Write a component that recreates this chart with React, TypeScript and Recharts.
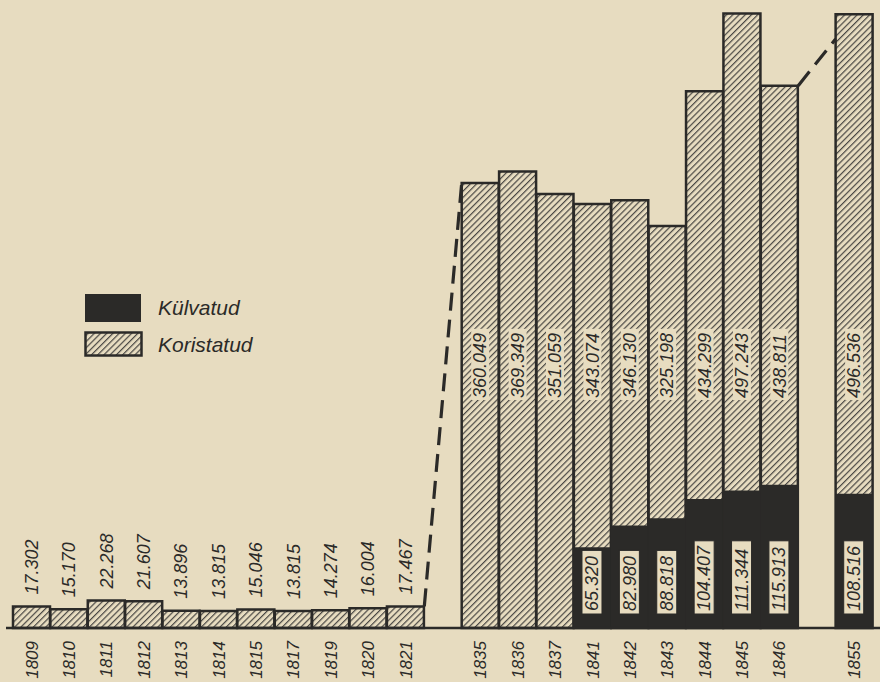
import { Bar, BarChart, LabelList, ReferenceLine, XAxis, YAxis } from "recharts";

// years shown on the axis; "gap" entries are the broken stretches of the axis
const years = [
  "1809", "1810", "1811", "1812", "1813", "1814", "1815", "1817", "1819", "1820", "1821",
  "gap1",
  "1835", "1836", "1837", "1841", "1842", "1843", "1844", "1845", "1846",
  "gap2",
  "1855",
];

// harvested (thousands)
const koristatud = [
  17.302, 15.17, 22.268, 21.607, 13.896, 13.815, 15.046, 13.815, 14.274, 16.004, 17.467,
  null,
  360.049, 369.349, 351.059, 343.074, 346.13, 325.198, 434.299, 497.243, 438.811,
  null,
  496.536,
];

// sown (thousands)
const kulvatud = [
  null, null, null, null, null, null, null, null, null, null, null,
  null,
  null, null, null, 65.32, 82.98, 88.818, 104.407, 111.344, 115.913,
  null,
  108.516,
];

const data = years.map((year, i) => ({
  year,
  koristatud: koristatud[i],
  kulvatud: kulvatud[i],
}));

const PAPER = "#e7dcc0";
const INK = "#2b2a28";
const FONT = "'Liberation Sans', Arial, sans-serif";

const fmt = (v: number) => v.toFixed(3);

function boxOf(props: any) {
  const vb = props.viewBox ?? props;
  return { x: vb.x, y: vb.y, width: vb.width, height: vb.height };
}

function VText({ x, y, children }: any) {
  return (
    <text
      x={x}
      y={y}
      transform={`rotate(-90, ${x}, ${y})`}
      textAnchor="start"
      dy="0.35em"
      fontFamily={FONT}
      fontStyle="italic"
      fontSize={18}
      fill={INK}
    >
      {children}
    </text>
  );
}

function HarvestLabel(props: any) {
  const { value } = props;
  if (value == null) return null;
  const { x, y, width, height } = boxOf(props);
  const cx = x + width / 2;
  const text = fmt(value);
  if (value < 100) {
    return <VText x={cx} y={y - 12}>{text}</VText>;
  }
  const ay = y + height - 230;
  const len = text.length * 9.6 + 4;
  return (
    <g>
      <rect x={cx - 9} y={ay - len + 2} width={18} height={len} fill={PAPER} />
      <VText x={cx} y={ay}>{text}</VText>
    </g>
  );
}

function SownLabel(props: any) {
  const { value } = props;
  if (value == null) return null;
  const { x, y, width, height } = boxOf(props);
  const cx = x + width / 2;
  const text = fmt(value);
  const ay = y + height - 17;
  const len = text.length * 9.6 + 6;
  return (
    <g>
      <rect
        x={cx - 10}
        y={ay - len + 3}
        width={20}
        height={len}
        fill={PAPER}
        stroke={INK}
        strokeWidth={1}
      />
      <VText x={cx} y={ay}>{text}</VText>
    </g>
  );
}

function YearTick({ x, y, payload }: any) {
  if (String(payload.value).startsWith("gap")) return <g />;
  const ty = y + 5;
  return (
    <text
      x={x}
      y={ty}
      transform={`rotate(-90, ${x}, ${ty})`}
      textAnchor="end"
      dy="0.35em"
      fontFamily={FONT}
      fontStyle="italic"
      fontSize={17}
      fill={INK}
    >
      {payload.value}
    </text>
  );
}

// dashed connector across an axis break, from the corner of one bar to the next
function BreakLine({ x1, y1, x2, y2 }: any) {
  const dx = (x2 - x1) / 4;
  return (
    <line
      x1={x1 + dx}
      y1={y1}
      x2={x2 - dx}
      y2={y2}
      stroke={INK}
      strokeWidth={3.2}
      strokeDasharray="18 9"
    />
  );
}

function Legend() {
  const items = [
    { name: "Külvatud", y: 22 },
    { name: "Koristatud", y: 59 },
  ];
  return (
    <div style={{ position: "absolute", left: 84, top: 293 }}>
      <svg width={200} height={70}>
        <defs>
          <pattern
            id="hatchLegend"
            patternUnits="userSpaceOnUse"
            width={4.4}
            height={4.4}
            patternTransform="rotate(45)"
          >
            <rect width={4.4} height={4.4} fill={PAPER} />
            <line x1={0} y1={0} x2={0} y2={4.4} stroke="#4a4844" strokeWidth={2.4} />
          </pattern>
        </defs>
        <rect x={1} y={1} width={56} height={28} fill={INK} />
        <rect x={1.5} y={39.5} width={56} height={23} fill="url(#hatchLegend)" stroke={INK} strokeWidth={2.5} />
        {items.map((it) => (
          <text
            key={it.name}
            x={74}
            y={it.y}
            fontFamily={FONT}
            fontStyle="italic"
            fontSize={21}
            fill={INK}
          >
            {it.name}
          </text>
        ))}
      </svg>
    </div>
  );
}

export default function App() {
  return (
    <div
      style={{
        position: "absolute",
        left: 0,
        top: 0,
        width: 880,
        height: 682,
        background: PAPER,
        overflow: "hidden",
      }}
    >
      <BarChart
        width={880}
        height={682}
        data={data}
        margin={{ top: 10, right: 0, bottom: 0, left: 6 }}
        barCategoryGap={0}
        barGap="-100%"
      >
        <defs>
          <pattern
            id="hatch"
            patternUnits="userSpaceOnUse"
            width={4.4}
            height={4.4}
            patternTransform="rotate(45)"
          >
            <rect width={4.4} height={4.4} fill={PAPER} />
            <line x1={0} y1={0} x2={0} y2={4.4} stroke="#4a4844" strokeWidth={2.4} />
          </pattern>
        </defs>
        <XAxis
          dataKey="year"
          interval={0}
          height={54}
          tickLine={false}
          axisLine={{ stroke: INK, strokeWidth: 2.5 }}
          padding={{ left: 7, right: 7 }}
          tick={<YearTick />}
        />
        <YAxis hide domain={[0, 500]} />
        <Bar
          dataKey="koristatud"
          fill="url(#hatch)"
          stroke={INK}
          strokeWidth={2.5}
          isAnimationActive={false}
        >
          <LabelList dataKey="koristatud" content={<HarvestLabel />} />
        </Bar>
        <Bar dataKey="kulvatud" fill={INK} isAnimationActive={false}>
          <LabelList dataKey="kulvatud" content={<SownLabel />} />
        </Bar>
        <ReferenceLine
          segment={[
            { x: "1821", y: koristatud[years.indexOf("1821")] },
            { x: "1835", y: koristatud[years.indexOf("1835")] },
          ]}
          ifOverflow="visible"
          shape={<BreakLine />}
        />
        <ReferenceLine
          segment={[
            { x: "1846", y: koristatud[years.indexOf("1846")] },
            { x: "1855", y: koristatud[years.indexOf("1855")] - 20 },
          ]}
          ifOverflow="visible"
          shape={<BreakLine />}
        />
      </BarChart>
      <Legend />
    </div>
  );
}
